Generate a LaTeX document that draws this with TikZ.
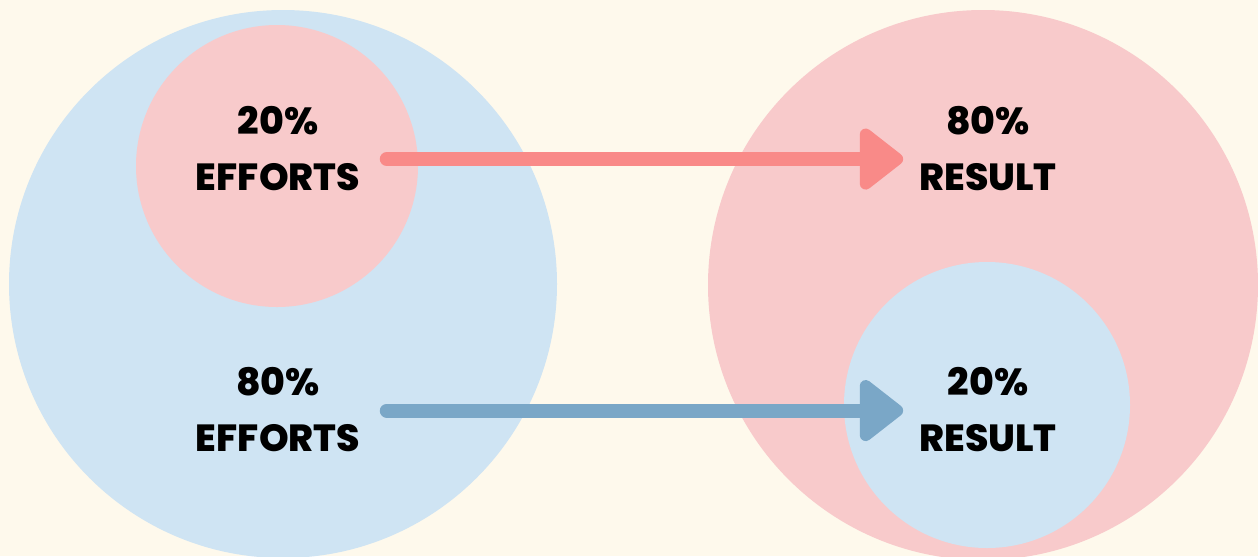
\documentclass[tikz,border=0pt]{standalone}
\usepackage{fontspec}
\setmainfont{Poppins}[BoldFont={Poppins ExtraBold}]
\usetikzlibrary{arrows.meta}
\definecolor{cream}{HTML}{FEF9EC}
\definecolor{softblue}{HTML}{CFE4F3}
\definecolor{softpink}{HTML}{F8CACB}
\definecolor{redarrow}{HTML}{F98A88}
\definecolor{bluearrow}{HTML}{7AA7C7}
\begin{document}
\begin{tikzpicture}[x=0.02cm,y=-0.02cm,
  share/.style={font=\bfseries\fontsize{21.5pt}{31.7pt}\selectfont, align=center, inner sep=0pt},
  flow/.style={line width=7.9pt, line cap=round, -{Triangle[length=27pt,width=40pt,round]}, shorten <=15pt, shorten >=9pt}]
\useasboundingbox (0,0) rectangle (1258,556);
\fill[cream] (0,0) rectangle (1258,556);
\clip (0,0) rectangle (1258,556);
% efforts
\fill[softblue] (283,284) circle (274);
\fill[softpink] (277,166) circle (141);
% results
\fill[softpink] (983,285) circle (275);
\fill[softblue] (987,405) circle (143);

\node[share] (eff20) at (278,148.5) {20\%\\EFFORTS};
\node[share] (eff80) at (278,409.5) {80\%\\EFFORTS};
\node[share] (res80) at (988,148.5) {80\%\\RESULT};
\node[share] (res20) at (988,409.5) {20\%\\RESULT};

\draw[flow, redarrow] ([yshift=-6pt]eff20.east) -- ([yshift=-6pt]res80.west);
\draw[flow, bluearrow] ([yshift=-0.6pt]eff80.east) -- ([yshift=-0.6pt]res20.west);
\end{tikzpicture}
\end{document}
